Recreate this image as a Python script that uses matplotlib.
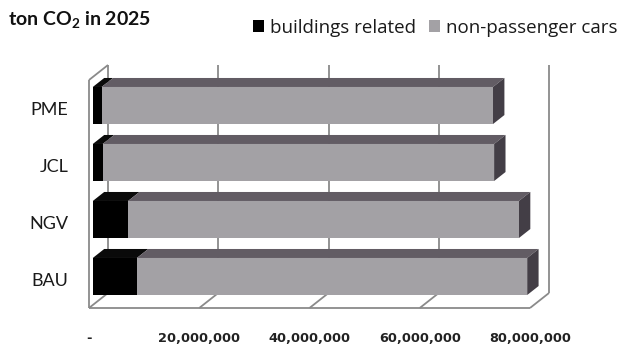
import matplotlib
matplotlib.use("Agg")
import matplotlib.pyplot as plt
from matplotlib.patches import Polygon, Patch

# data (tonnes CO2 in 2025)
scenarios = ["BAU", "NGV", "JCL", "PME"]
buildings = [8.0e6, 6.4e6, 1.8e6, 1.6e6]
non_passenger = [70.8e6, 70.9e6, 71.0e6, 71.0e6]
xticks = [0, 20e6, 40e6, 60e6, 80e6]
xlabels = ["-", "20,000,000", "40,000,000", "60,000,000", "80,000,000"]
series_names = ["buildings related", "non-passenger cars"]

plt.rcParams["mathtext.fontset"] = "custom"
plt.rcParams["mathtext.rm"] = "Lato:bold"
plt.rcParams["mathtext.bf"] = "Lato:bold"

W, H = 619, 350
fig = plt.figure(figsize=(W / 100, H / 100), dpi=100)
fig.patch.set_facecolor("white")

# front plane of the plot box in pixels
ax_left, ax_bottom, ax_w, ax_h = 89, 42, 441, 228
ax = fig.add_axes([ax_left / W, ax_bottom / H, ax_w / W, ax_h / H])
ax.set_facecolor("none")

xmax = xticks[-1]
ymin, ymax = -0.5, len(scenarios) - 0.5
ax.set_xlim(0, xmax)
ax.set_ylim(ymin, ymax)

# oblique depth, in pixels -> data units
depth_x = 19 * xmax / ax_w
depth_y = 15 * (ymax - ymin) / ax_h
f0, f1 = 0.2, 0.8
bar_h = 0.65

wall_col = "#8a8a8a"
lw = 1.3
kw = dict(color=wall_col, lw=lw, zorder=1, clip_on=False, solid_capstyle="butt")

# floor
ax.plot([0, xmax], [ymin, ymin], **kw)
for t in xticks:
    ax.plot([t, t + depth_x], [ymin, ymin + depth_y], **kw)
# back wall gridlines
for t in xticks:
    ax.plot([t + depth_x, t + depth_x], [ymin + depth_y, ymax + depth_y], **kw)
# left wall
ax.plot([0, 0], [ymin, ymax], **kw)
ax.plot([0, depth_x], [ymax, ymax + depth_y], **kw)

front_cols = ["#000000", "#a3a1a5"]
top_cols = ["#0a0a0a", "#625c64"]
side_col = "#433e46"

ox0, oy0 = f0 * depth_x, f0 * depth_y
ddx, ddy = (f1 - f0) * depth_x, (f1 - f0) * depth_y

for i, name in enumerate(scenarios):
    segs = [(0, buildings[i]), (buildings[i], buildings[i] + non_passenger[i])]
    yb = i - bar_h / 2 + oy0
    yt = i + bar_h / 2 + oy0
    for k, (l, r) in enumerate(segs):
        ax.barh(i + oy0, r - l, left=l + ox0, height=bar_h,
                color=front_cols[k], linewidth=0, zorder=3, clip_on=False)
        ax.add_patch(Polygon([(l + ox0, yt), (r + ox0, yt),
                              (r + ox0 + ddx, yt + ddy), (l + ox0 + ddx, yt + ddy)],
                             closed=True, facecolor=top_cols[k], lw=0, zorder=2,
                             clip_on=False))
    r = segs[-1][1]
    ax.add_patch(Polygon([(r + ox0, yb), (r + ox0, yt),
                          (r + ox0 + ddx, yt + ddy), (r + ox0 + ddx, yb + ddy)],
                         closed=True, facecolor=side_col, lw=0, zorder=2,
                         clip_on=False))

for s in ax.spines.values():
    s.set_visible(False)
ax.set_xticks(xticks)
ax.set_xticklabels(xlabels, fontfamily="DejaVu Sans", fontweight="bold",
                   fontsize=9.3, color="#222222")
ax.set_yticks(range(len(scenarios)))
ax.set_yticklabels(scenarios, fontfamily="Lato", fontsize=13, color="#1a1a1a")
ax.tick_params(axis="x", length=0, pad=17)
ax.tick_params(axis="y", length=0, pad=15)

fig.text(8 / W, 1 - 20 / H, r"ton CO$_2$ in 2025", fontfamily="Lato",
         fontweight="bold", fontsize=14, color="#111111", va="center")

handles = [Patch(facecolor=front_cols[0]), Patch(facecolor=front_cols[1])]
fig.legend(handles, series_names, loc="center right",
           bbox_to_anchor=(1 - 2 / W, 1 - 28 / H), ncol=2, frameon=False,
           prop={"family": "Open Sans", "size": 13.5}, handlelength=0.6,
           handleheight=0.6, handletextpad=0.3, columnspacing=0.7,
           labelcolor="#1a1a1a", borderpad=0, borderaxespad=0)

fig.savefig("out.png", dpi=100, facecolor="white")
